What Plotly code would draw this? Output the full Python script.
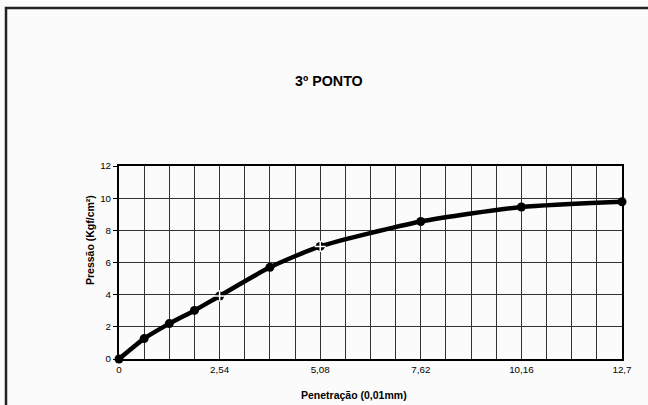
import plotly.graph_objects as go

# Data
penetracao = [0, 0.635, 1.27, 1.905, 2.54, 3.81, 5.08, 7.62, 10.16, 12.7]
pressao = [0, 1.27, 2.2, 3.02, 3.92, 5.7, 7.0, 8.55, 9.45, 9.78]
cross_x = [2.54, 5.08]
cross_y = [3.92, 7.0]
x_tick_vals = [0, 2.54, 5.08, 7.62, 10.16, 12.7]
x_tick_text = ["0", "2,54", "5,08", "7,62", "10,16", "12,7"]
y_tick_vals = [0, 2, 4, 6, 8, 10, 12]

font = "Liberation Sans, Arial, sans-serif"

L, R, T, B = 119, 26, 166, 46
W, H = 648, 405
pw, ph = W - L - R, H - T - B

def px(x):
    return (x - L) / pw

def py(y):
    return (H - B - y) / ph

fig = go.Figure()
fig.add_trace(go.Scatter(
    x=penetracao, y=pressao, mode="lines+markers",
    line=dict(color="black", width=4.5, shape="spline", smoothing=0.6),
    marker=dict(color="black", size=9, symbol="circle"),
    showlegend=False, cliponaxis=False,
))
fig.add_trace(go.Scatter(
    x=cross_x, y=cross_y, mode="markers",
    marker=dict(color="white", size=8, symbol="cross-thin",
                line=dict(color="white", width=1.5)),
    showlegend=False, cliponaxis=False,
))

fig.update_layout(
    width=W, height=H,
    margin=dict(l=L, r=R, t=T, b=B),
    paper_bgcolor="#fbfbfb", plot_bgcolor="#fbfbfb",
    font=dict(family=font, color="black"),
    shapes=[dict(type="rect", xref="paper", yref="paper",
                 x0=px(6), x1=px(700), y0=py(460), y1=py(8),
                 line=dict(color="#222", width=2.5))],
    annotations=[
        dict(text="<b>3º PONTO</b>", xref="paper", yref="paper",
             x=px(329), y=py(81), xanchor="center", yanchor="middle",
             showarrow=False, font=dict(size=14.3, family=font, color="black")),
        dict(text="<b>Penetração (0,01mm)</b>", xref="paper", yref="paper",
             x=px(354), y=py(395), xanchor="center", yanchor="middle",
             showarrow=False, font=dict(size=10.5, family=font, color="black")),
        dict(text="<b>Pressão (Kgf/cm²)</b>", xref="paper", yref="paper",
             x=px(90), y=py(240), xanchor="center", yanchor="middle", textangle=-90,
             showarrow=False, font=dict(size=10.5, family=font, color="black")),
    ],
)

fig.update_xaxes(
    range=[0, 12.7], tickmode="array", tickvals=x_tick_vals, ticktext=x_tick_text,
    showgrid=True, gridcolor="#333", gridwidth=1,
    minor=dict(dtick=0.635, tick0=0, showgrid=True, gridcolor="#333", gridwidth=1),
    showline=True, linecolor="black", linewidth=2, mirror=True,
    ticks="", tickfont=dict(size=9.8, family=font),
    zeroline=False,
)
fig.update_yaxes(
    range=[0, 12], tickmode="array", tickvals=y_tick_vals,
    showgrid=True, gridcolor="#333", gridwidth=1,
    showline=True, linecolor="black", linewidth=2, mirror=True,
    ticks="outside", ticklen=4, tickcolor="black", tickfont=dict(size=9.8, family=font),
    zeroline=False,
)

fig.write_html("out.html", config={"displayModeBar": False},
               post_script="document.body.style.margin='0';document.body.style.overflow='hidden';")
